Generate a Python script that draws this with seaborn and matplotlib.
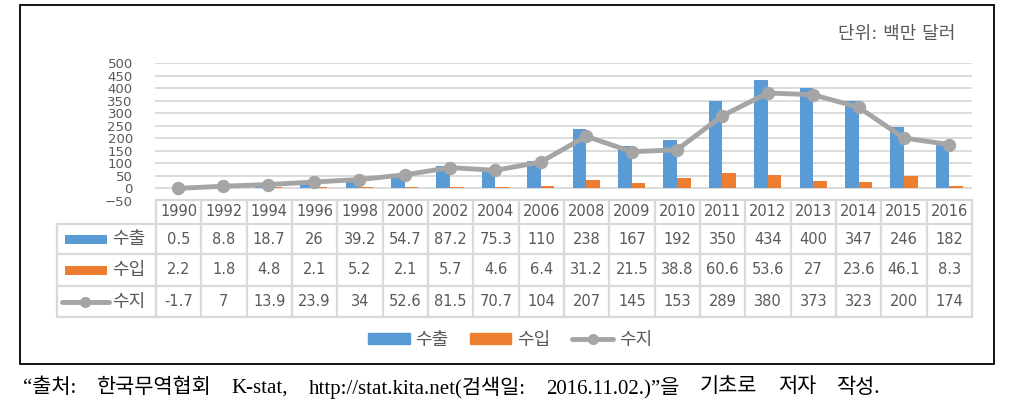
import pandas as pd
import numpy as np
import matplotlib.pyplot as plt
import seaborn as sns
from matplotlib.patches import Rectangle, Patch
from matplotlib.lines import Line2D

years = ['1990', '1992', '1994', '1996', '1998', '2000', '2002', '2004', '2006',
         '2008', '2009', '2010', '2011', '2012', '2013', '2014', '2015', '2016']
exports = [0.5, 8.8, 18.7, 26, 39.2, 54.7, 87.2, 75.3, 110, 238, 167, 192, 350, 434, 400, 347, 246, 182]
imports = [2.2, 1.8, 4.8, 2.1, 5.2, 2.1, 5.7, 4.6, 6.4, 31.2, 21.5, 38.8, 60.6, 53.6, 27, 23.6, 46.1, 8.3]
balance = [-1.7, 7, 13.9, 23.9, 34, 52.6, 81.5, 70.7, 104, 207, 145, 153, 289, 380, 373, 323, 200, 174]
series_names = ['수출', '수입', '수지']
yticks = list(range(-50, 501, 50))
# source note, split into words so the wide spacing of the original can be kept
note_words = ['“출처:', '한국무역협회', 'K-stat,', 'http://stat.kita.net(검색일:',
              '2016.11.02.)”을', '기초로', '저자', '작성.']

BLUE, ORANGE, GRAY = '#5b9bd5', '#ed7d31', '#a5a5a5'
TXT = '#595959'
GRID = '#d9d9d9'

sns.set_style('white')
plt.rcParams['font.family'] = ['DejaVu Sans', 'Noto Sans CJK KR']

W, H = 1020, 420
fig = plt.figure(figsize=(10.2, 4.2), dpi=100)

def px_axes(x0, y0, x1, y1):
    return fig.add_axes([x0 / W, 1 - y1 / H, (x1 - x0) / W, (y1 - y0) / H])

# main chart
ax = px_axes(155, 63, 972, 200.5)
df = pd.DataFrame({'year': years * 2,
                   'value': exports + imports,
                   'series': ['수출'] * len(years) + ['수입'] * len(years)})
sns.barplot(data=df, x='year', y='value', hue='series', order=years,
            palette=[BLUE, ORANGE], width=0.6, saturation=1, linewidth=0,
            legend=False, ax=ax)
sns.pointplot(x=years, y=balance, order=years, color=GRAY, markers='o',
              errorbar=None, linewidth=3.5, markersize=7, ax=ax)
ax.set_xlim(-0.5, len(years) - 0.5)
ax.set_ylim(-50, 500)
ax.set_yticks(yticks)
ax.yaxis.grid(True, color=GRID, lw=1.3)
ax.set_axisbelow(True)
ax.set_xticks([])
ax.set_xlabel('')
ax.set_ylabel('')
ax.tick_params(axis='y', length=0, pad=16, labelsize=9.5, labelcolor=TXT)
for s in ax.spines.values():
    s.set_visible(False)
ax.patch.set_alpha(0)

# data table
col_w = 817 / len(years)
xl = -0.5 - 99 / col_w
ta = px_axes(57, 200, 972, 317)
ta.set_xlim(xl, len(years) - 0.5)
ta.set_ylim(317, 200)
ta.axis('off')
lw_t = 1.6
ta.plot([-0.5, len(years) - 0.5], [200, 200], color=GRID, lw=lw_t, clip_on=False)
for yy in [224, 254, 286, 317]:
    ta.plot([xl, len(years) - 0.5], [yy, yy], color=GRID, lw=lw_t, clip_on=False)
ta.plot([xl, xl], [224, 317], color=GRID, lw=lw_t, clip_on=False)
for k in range(len(years) + 1):
    ta.plot([k - 0.5, k - 0.5], [200, 317], color=GRID, lw=lw_t, clip_on=False)

row_y = [239, 270, 301.5]
for i, yr in enumerate(years):
    ta.text(i, 212, yr, ha='center', va='center', fontsize=10.5, color=TXT)
    for vals, ry in zip([exports, imports, balance], row_y):
        ta.text(i, ry, f'{vals[i]:g}', ha='center', va='center', fontsize=10.5, color=TXT)

kx0, kx1 = xl + 8 / col_w, xl + 50 / col_w
ta.add_patch(Rectangle((kx0, row_y[0] - 4.5), kx1 - kx0, 9, color=BLUE, lw=0))
ta.add_patch(Rectangle((kx0, row_y[1] - 4.5), kx1 - kx0, 9, color=ORANGE, lw=0))
ta.plot([xl + 5 / col_w, xl + 52 / col_w], [row_y[2], row_y[2]], color=GRAY, lw=3.5,
        solid_capstyle='round')
ta.plot([xl + 28 / col_w], [row_y[2]], 'o', color=GRAY, ms=7)
for name, ry in zip(series_names, row_y):
    ta.text(xl + 55 / col_w, ry, name, ha='left', va='center', fontsize=13, color=TXT)

# legend
handles = [Patch(color=BLUE), Patch(color=ORANGE),
           Line2D([], [], color=GRAY, lw=3.5, marker='o', ms=7)]
fig.legend(handles, series_names, loc='center', bbox_to_anchor=(510 / W, 1 - 340 / H),
           ncol=3, frameon=False, fontsize=13, labelcolor=TXT, handlelength=2.3,
           handleheight=0.5, handletextpad=0.3, columnspacing=1.2)

# unit label
fig.text(955 / W, 1 - 34 / H, '단위: 백만 달러', ha='right', va='center',
         fontsize=13, color=TXT)

# outer frame
fig.add_artist(Rectangle((20 / W, 1 - 364 / H), 974 / W, 359 / H,
                         transform=fig.transFigure, fill=False, ec='black', lw=1.3))

# source note: words spread evenly between x=23 and x=880 like the justified original
renderer = fig.canvas.get_renderer()
note_texts = [fig.text(0, 1 - 388 / H, w, ha='left', va='center', fontsize=15,
                       color='black', family=['Liberation Serif', 'Noto Sans CJK KR'])
              for w in note_words]
widths = [t.get_window_extent(renderer).width for t in note_texts]
gap = (880 - 23 - sum(widths)) / (len(widths) - 1)
x = 23
for t, w in zip(note_texts, widths):
    t.set_x(x / W)
    x += w + gap

fig.savefig('out.png', dpi=100)
